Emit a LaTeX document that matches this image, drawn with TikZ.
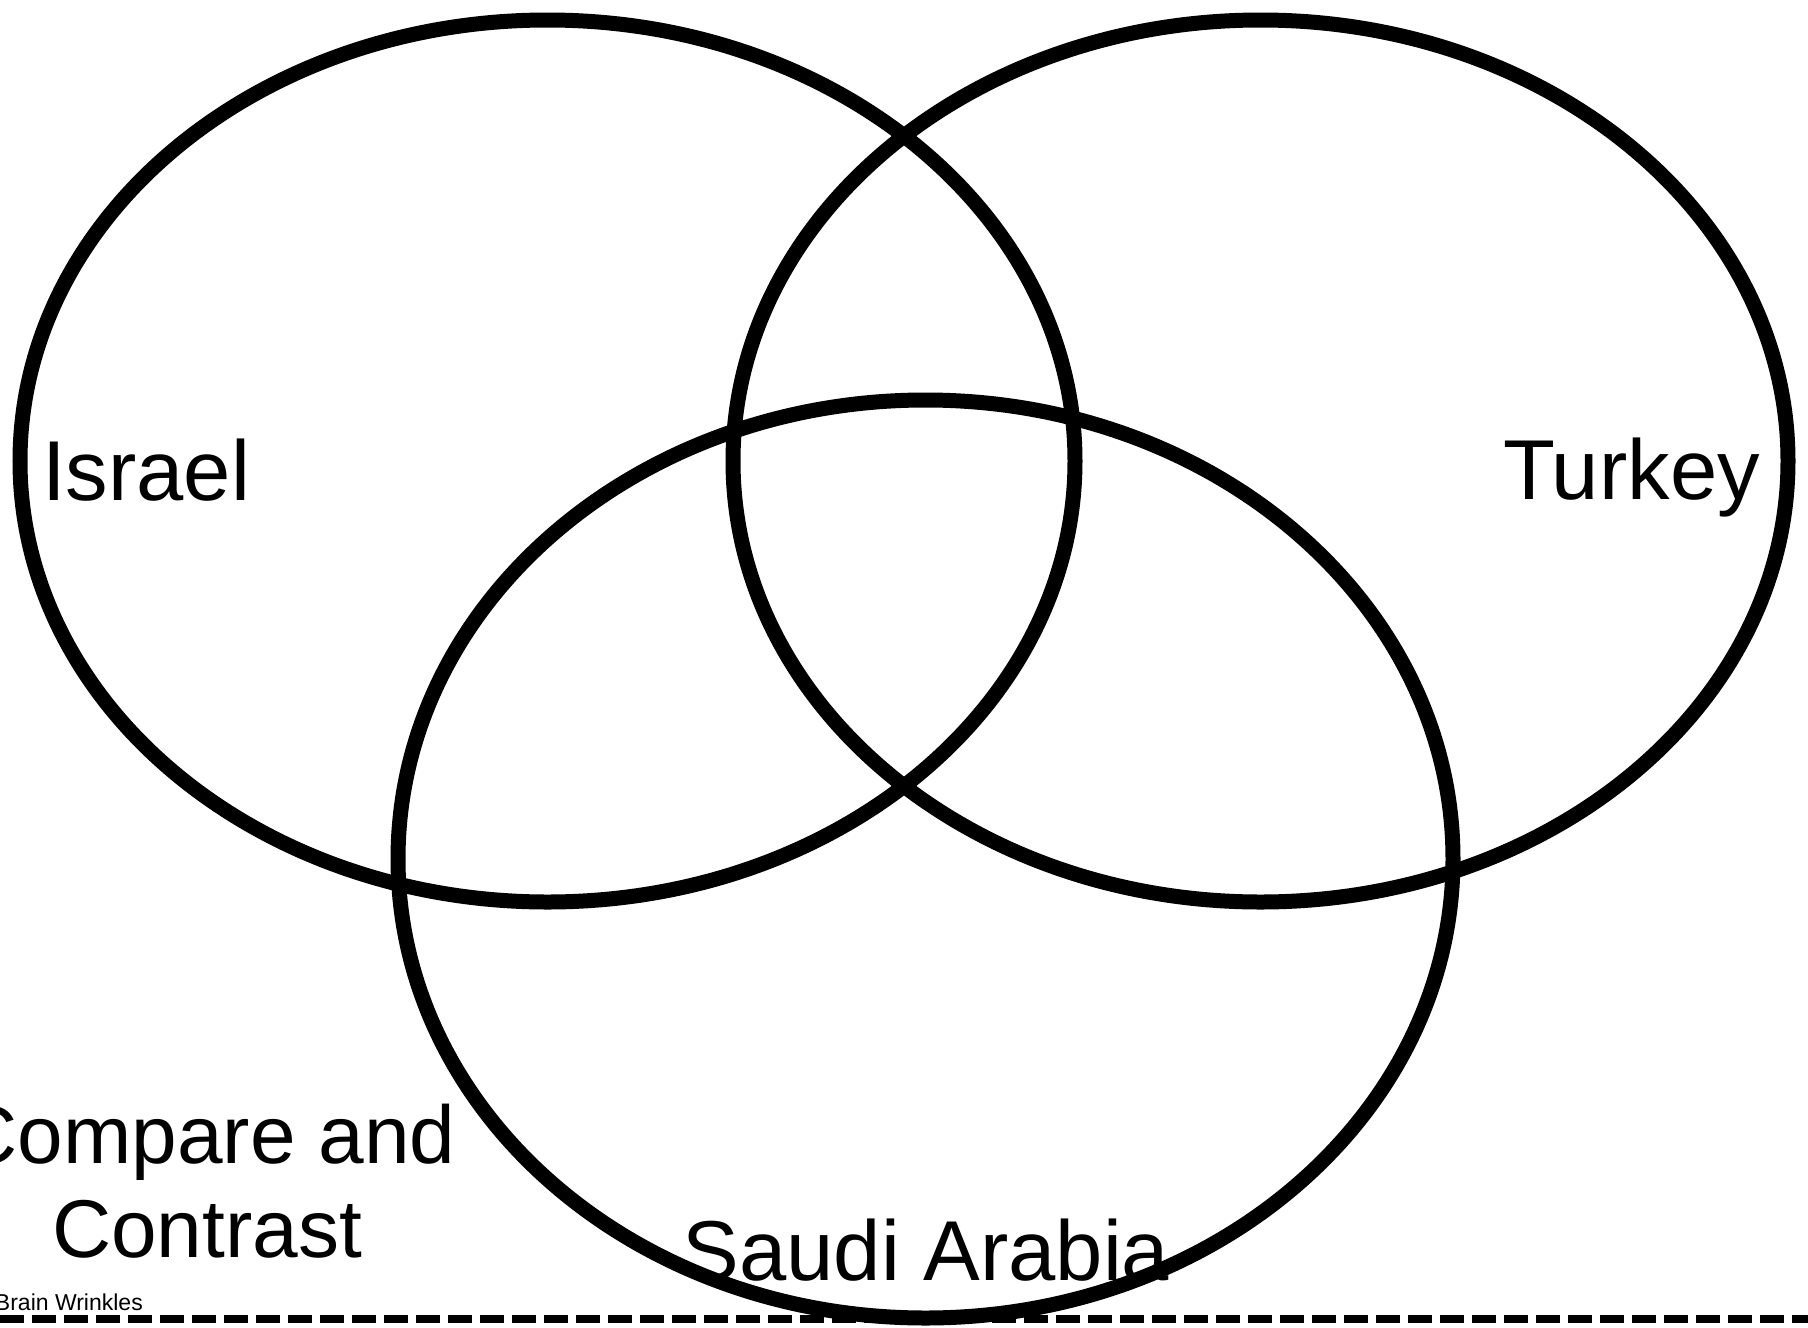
\documentclass[tikz,border=0pt]{standalone}
\usepackage{fontspec}
\setmainfont{Liberation Sans}
\begin{document}
\begin{tikzpicture}[x=1pt,y=-1pt,
  ring/.style={draw=black,line width=15pt},
  big/.style={inner sep=0pt,font=\fontsize{85}{94}\selectfont},
  cut/.style={draw=black,line width=8pt,dash pattern=on 24pt off 8pt}]
\useasboundingbox[fill=white] (0,0) rectangle (1808,1328);
\draw[cut] (0,1318.5) -- (1808,1318.5);
\draw[ring] (547.5,461) ellipse [x radius=527.5,y radius=441];
\draw[ring] (1260.5,461) ellipse [x radius=527.5,y radius=441];
\draw[ring] (925.5,859) ellipse [x radius=527.5,y radius=459];
\node[big,anchor=base west] (israel) at (42,500) {Israel};
\node[big,anchor=base east] (turkey) at (1760,499) {Turkey};
\node[big,anchor=base] (saudi) at (926,1280) {Saudi Arabia};
\node[inner sep=0pt,font=\fontsize{82}{94}\selectfont,align=center,anchor=base] (cc) at (207,1257) {Compare and\\Contrast};
\node[inner sep=0pt,font=\fontsize{23}{26}\selectfont,anchor=base east] (bw) at (143,1310) {Brain Wrinkles};
\end{tikzpicture}
\end{document}
